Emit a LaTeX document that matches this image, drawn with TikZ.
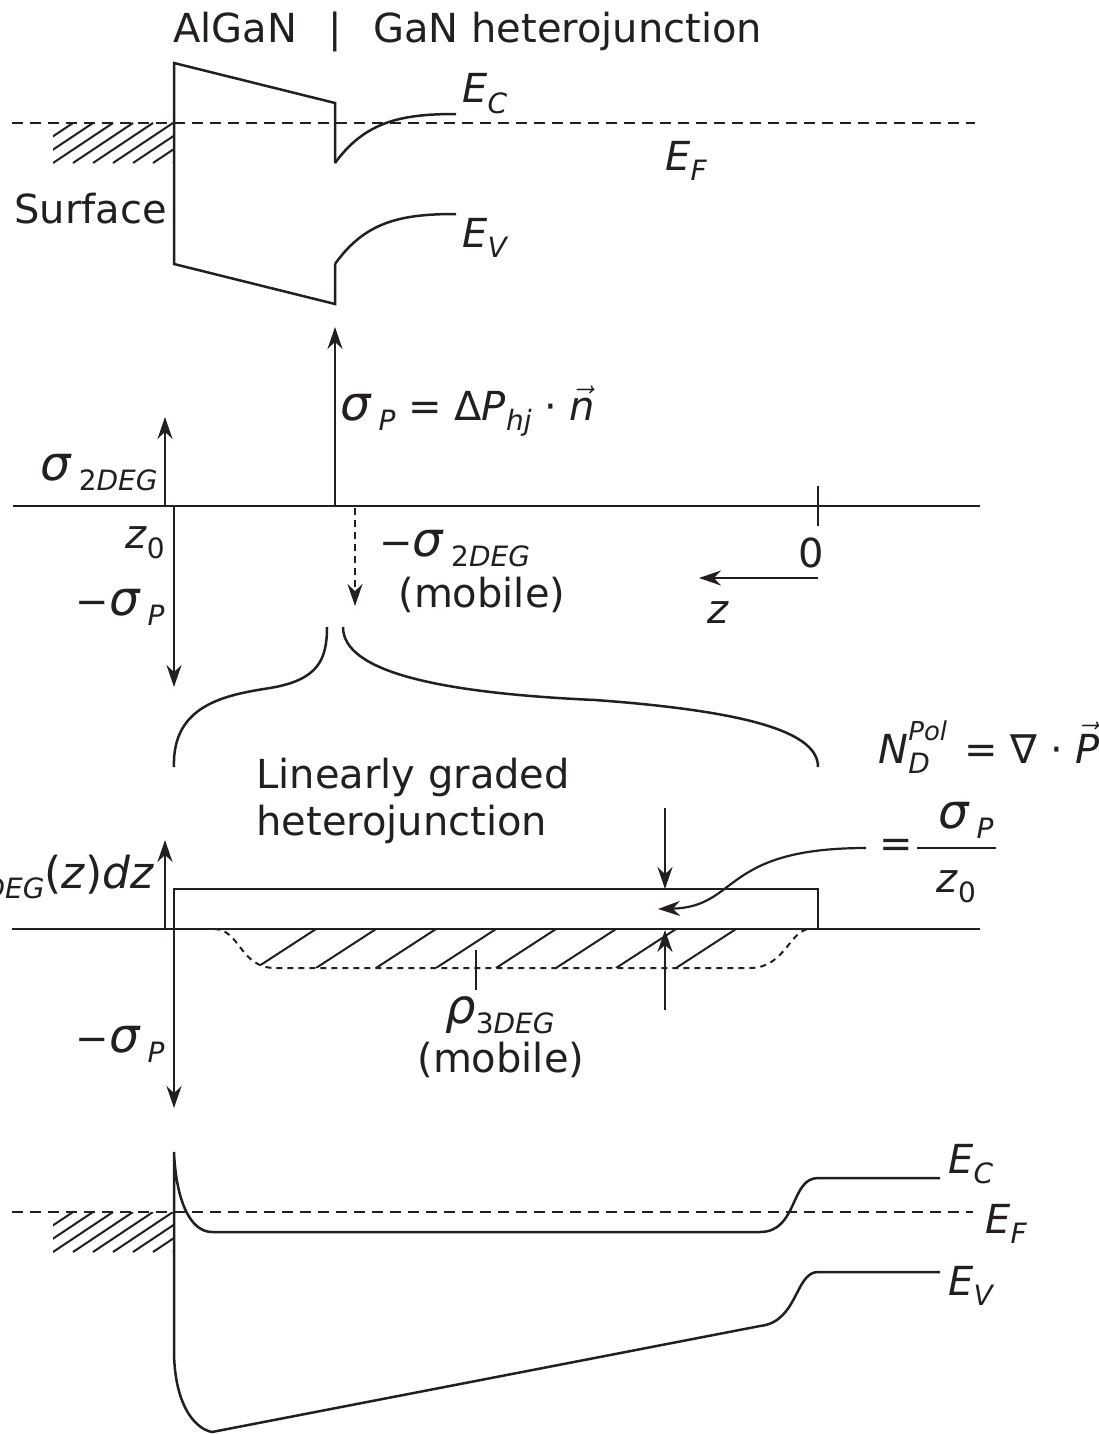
\documentclass[tikz,border=0pt]{standalone}
\usepackage{fontspec}
\setmainfont{DejaVu Sans}
\usetikzlibrary{arrows.meta,positioning}
\definecolor{ink}{HTML}{231F20}
\newcommand\lo[1]{\raisebox{-0.5ex}{\fontsize{14}{14}\selectfont#1}}
\newcommand\hi[1]{\raisebox{1.05ex}{\fontsize{13}{13}\selectfont\textit{#1}}}
\newcommand\vc[1]{$\vec{\hbox{\textit{#1}}}$}
\newcommand\sg{{\fontsize{24}{24}\selectfont\textit{σ}}}
\newcommand\rh{{\fontsize{24}{24}\selectfont\textit{ρ}}}

\begin{document}
\begin{tikzpicture}[x=0.5pt, y=-0.5pt, color=ink,
  txt/.style={font=\fontsize{20}{24}\selectfont, inner sep=0pt},
  band/.style={line width=1.25pt},
  fermi/.style={line width=1.2pt, dash pattern=on 5.5pt off 3.5pt},
  arr/.style={line width=1.1pt, -{Stealth[length=11pt, width=7.5pt]}},
  hatchline/.style={line width=1pt}
]
\useasboundingbox (0,0) rectangle (1098,1434);

% surface hatching at both Fermi levels
\foreach \ef in {123,1212} {
  \begin{scope}
    \clip (53,\ef) rectangle (174,\ef+40);
    \foreach \k in {-3,...,6}
      \draw[hatchline] ({53+20*\k},\ef+40) -- ({113+20*\k},\ef);
  \end{scope}
}

% ---- abrupt heterojunction band diagram
\node[txt, anchor=base west] (algan) at (173,43) {AlGaN};
\node[txt, anchor=base] (bar) at (335,43) {|};
\node[txt, anchor=base west] (gan) at (373,43) {GaN heterojunction};
\draw[fermi] (12,123) -- (975,123);
\draw[band] (335,163) -- (335,103) -- (174,63) -- (174,264) -- (335,304) -- (335,264);
\draw[band] (335,163) .. controls (365,122) and (400,114) .. (456,114);
\draw[band] (335,264) .. controls (365,222) and (400,214) .. (456,214);
\node[txt, anchor=base west] (ecA) at (462,103) {\textit{E}\lo{\textit{C}}};
\node[txt, anchor=base west] (evA) at (462,247) {\textit{E}\lo{\textit{V}}};
\node[txt, anchor=base west] (efA) at (665,170) {\textit{E}\lo{\textit{F}}};
\node[txt, anchor=base west] (surf) at (14,223) {Surface};

% ---- sheet charges
\coordinate (axA1) at (13,506);
\coordinate (axA2) at (980,506);
\draw[band] (axA1) -- (axA2);
\draw[band] (818,486) -- (818,526);
\node[txt, anchor=base] (zero) at (811,567) {0};
\coordinate (zs) at (818,578);
\coordinate (ze) at (699,578);
\draw[arr] (zs) -- (ze);
\node[txt, anchor=base] (zlab) at (718,623) {\textit{z}};

\coordinate (s2a) at (165,506);
\coordinate (s2b) at (165,417);
\draw[arr] (s2a) -- (s2b);
\coordinate (spa) at (335,506);
\coordinate (spb) at (335,327);
\draw[arr] (spa) -- (spb);
\coordinate (mpa) at (174,506);
\coordinate (mpb) at (174,687);
\draw[arr] (mpa) -- (mpb);
\coordinate (m2a) at (355,508);
\coordinate (m2b) at (355,606);
\draw[arr, dash pattern=on 3.5pt off 2.5pt] (m2a) -- (m2b);

\node[txt, anchor=base east] (sig2) at (158,480) {\sg\,\lo{2\textit{DEG}}};
\node[txt, anchor=base west] (sigp) at (340,420) {\sg\,\lo{\textit{P}} = Δ\textit{P}\lo{\textit{hj}} · \vc{n}};
\node[txt, anchor=base east] (zz0) at (165,548) {\textit{z}\lo{0}};
\node[txt, anchor=base east] (msp) at (165,615) {−\sg\,\lo{\textit{P}}};
\node[txt, anchor=base west] (ms2) at (379,556) {−\sg\,\lo{2\textit{DEG}}};
\node[txt, anchor=base west] (mob1) at (398,607) {(mobile)};

% brace to the graded junction
\draw[band] (174,767) .. controls (172,705) and (225,695) .. (270,688)
  .. controls (318,680) and (327,660) .. (327,627);
\draw[band] (343,627) .. controls (343,672) and (440,693) .. (595,700)
  .. controls (760,712) and (818,735) .. (818,767);

% ---- linearly graded heterojunction
\node[txt, anchor=base west] (linA) at (256,788) {Linearly graded};
\node[txt, anchor=base west] (linB) at (256,835) {heterojunction};
\coordinate (axB1) at (12,929);
\coordinate (axB2) at (980,929);
\draw[band] (axB1) -- (axB2);
\coordinate (upa) at (165,929);
\coordinate (upb) at (165,840);
\draw[arr] (upa) -- (upb);
\draw[arr, line width=1.25pt] (818,929) -- (818,889) -- (174,889) -- (174,1108);
\node[txt, anchor=base east] (intl) at (155,888) {\rh\lo{3\textit{DEG}}{\fontsize{22}{22}\selectfont(\textit{z})\textit{dz}}};

% mobile 3DEG
\begin{scope}
  \clip (214,929) .. controls (240,929) and (240,968) .. (275,968) -- (750,968)
    .. controls (785,968) and (790,929) .. (810,929) -- cycle;
  \foreach \k in {0,...,7}
    \draw[hatchline] ({256+60*\k},968) -- ({316+60*\k},929);
\end{scope}
\draw[line width=1pt, dash pattern=on 3pt off 2.5pt] (214,929) .. controls (240,929) and (240,968) .. (275,968)
  -- (750,968) .. controls (785,968) and (790,929) .. (810,929);
\draw[line width=1.1pt] (476,950) -- (476,990);
\node[txt, anchor=base west] (rho) at (445,1023) {\rh\lo{3\textit{DEG}}};
\node[txt, anchor=base west] (mob2) at (417,1072) {(mobile)};
\node[txt, anchor=base east] (msp2) at (165,1052) {−\sg\,\lo{\textit{P}}};

\coordinate (tha) at (665,808);
\coordinate (thb) at (665,889);
\draw[arr] (tha) -- (thb);
\coordinate (tua) at (665,1010);
\coordinate (tub) at (665,930);
\draw[arr] (tua) -- (tub);

\node[txt, anchor=base west] (ndpol) at (878,763) {\textit{N}\rlap{\hi{Pol}}\lo{\textit{D}}\hspace{11pt} = ∇ · \vc{P}};
\node[txt, anchor=west] (eqs) at (879,848) {=};
\node[txt, anchor=base west] (frnum) at (938,828) {\sg\,\lo{\textit{P}}};
\node[txt, anchor=base west] (frden) at (936,892) {\textit{z}\lo{0}};
\draw[line width=1pt] (917,848) -- (996,848);
\draw[arr] (eqs.west) ++(-13,0) coordinate (cva) .. controls (720,848) and (740,907) .. (658,909);

% ---- band diagram of the graded junction
\draw[fermi] (12,1212) -- (973,1212);
\draw[band] (940,1178) -- (818,1178) .. controls (790,1178) and (798,1232) .. (760,1232)
  -- (212,1232) .. controls (190,1232) and (176,1200) .. (174,1152)
  -- (174,1350) .. controls (174,1400) and (192,1428) .. (212,1432)
  -- (760,1326) .. controls (798,1322) and (795,1272) .. (818,1272) -- (940,1272);
\node[txt, anchor=base west] (ecB) at (948,1173) {\textit{E}\lo{\textit{C}}};
\node[txt, anchor=base west] (efB) at (985,1233) {\textit{E}\lo{\textit{F}}};
\node[txt, anchor=base west] (evB) at (948,1295) {\textit{E}\lo{\textit{V}}};
\end{tikzpicture}
\end{document}
